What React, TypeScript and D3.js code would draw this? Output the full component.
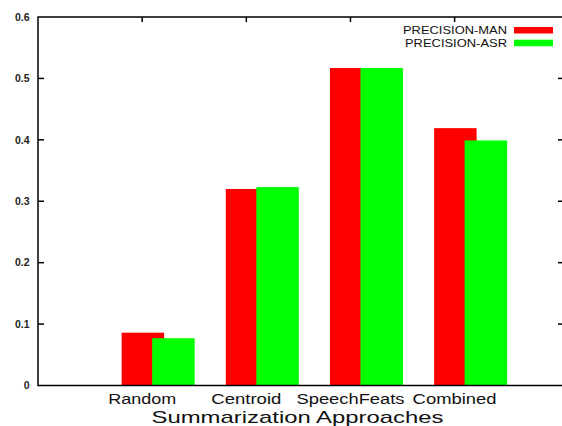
import React, { useEffect, useRef } from 'react'
import * as d3 from 'd3'

const categories = ['Random', 'Centroid', 'SpeechFeats', 'Combined']
const precisionMan = [0.086, 0.32, 0.517, 0.419]
const precisionAsr = [0.077, 0.323, 0.517, 0.399]
const yTicks = [0, 0.1, 0.2, 0.3, 0.4, 0.5, 0.6]
const seriesNames = ['PRECISION-MAN', 'PRECISION-ASR']
const seriesColors = ['#ff0000', '#00ff00']
// measured widths of the stretched gnuplot labels
const catLabelWidths = [68, 70, 108, 84]

const W = 562
const H = 426

const App = () => {
  const ref = useRef<SVGSVGElement | null>(null)

  useEffect(() => {
    const svg = d3.select(ref.current)
    svg.selectAll('*').remove()

    const left = 38
    const top = 17
    const bottom = 385.5
    const right = 564

    const x = d3.scaleLinear().domain([-1, 4.05]).range([left, right])
    const y = d3.scaleLinear().domain([0, 0.6]).range([bottom, top])
    const unit = x(1) - x(0)
    const barW = 0.408 * unit
    const offsets = [-0.197, 0.096]
    const font = 'Liberation Sans, Arial, Helvetica, sans-serif'

    const series = [precisionMan, precisionAsr]

    // bars, red first then green on top
    series.forEach((vals, s) => {
      svg
        .append('g')
        .selectAll('rect')
        .data(vals)
        .enter()
        .append('rect')
        .attr('x', (d, i) => x(i + offsets[s]))
        .attr('y', d => y(d))
        .attr('width', barW)
        .attr('height', d => y(0) - y(d))
        .attr('fill', seriesColors[s])
    })

    // frame
    const frame = svg.append('g').attr('stroke', '#000').attr('stroke-width', 1.5).attr('fill', 'none')
    frame.append('path').attr('d', `M${right},${top}H${left}V${bottom}H${right}V${top}`)

    // y ticks (left and mirrored right)
    yTicks.forEach(t => {
      if (t === 0 || t === 0.6) return
      frame.append('line').attr('x1', left).attr('x2', left + 6).attr('y1', y(t)).attr('y2', y(t))
      frame.append('line').attr('x1', right).attr('x2', right - 6).attr('y1', y(t)).attr('y2', y(t))
    })
    // x ticks mirrored at the top
    categories.forEach((c, i) => {
      frame.append('line').attr('x1', x(i)).attr('x2', x(i)).attr('y1', top).attr('y2', top + 5)
    })

    svg
      .append('g')
      .selectAll('text')
      .data(yTicks)
      .enter()
      .append('text')
      .attr('x', 29.5)
      .attr('y', d => y(d) + 3.8)
      .attr('text-anchor', 'end')
      .attr('font-family', font)
      .attr('font-size', 10.5)
      .attr('font-weight', 'bold')
      .attr('fill', '#222')
      .text(d => (d === 0 ? '0' : d3.format('.1f')(d)))

    svg
      .append('g')
      .selectAll('text')
      .data(categories)
      .enter()
      .append('text')
      .attr('x', (d, i) => x(i) - catLabelWidths[i] / 2)
      .attr('y', 404)
      .attr('textLength', (d, i) => catLabelWidths[i])
      .attr('lengthAdjust', 'spacingAndGlyphs')
      .attr('font-family', font)
      .attr('font-size', 14)
      .attr('fill', '#111')
      .text(d => d)

    svg
      .append('text')
      .attr('x', 151.5)
      .attr('y', 422.5)
      .attr('textLength', 292)
      .attr('lengthAdjust', 'spacingAndGlyphs')
      .attr('font-family', font)
      .attr('font-size', 17)
      .attr('fill', '#111')
      .text('Summarization Approaches')

    // legend
    const legend = svg.append('g')
    seriesNames.forEach((name, i) => {
      const cy = 30 + i * 12.7
      legend
        .append('text')
        .attr('x', 507 - 104 + i * 2)
        .attr('y', cy + 3.8)
        .attr('textLength', 104 - i * 2)
        .attr('lengthAdjust', 'spacingAndGlyphs')
        .attr('font-family', font)
        .attr('font-size', 10.5)
        .attr('fill', '#111')
        .text(name)
      legend
        .append('rect')
        .attr('x', 514)
        .attr('y', cy - 3)
        .attr('width', 39)
        .attr('height', 6.5)
        .attr('fill', seriesColors[i])
    })
  }, [])

  return (
    <svg
      ref={ref}
      width={W}
      height={H}
      style={{ position: 'absolute', left: 0, top: 0, background: '#fff' }}
    />
  )
}

export default App
